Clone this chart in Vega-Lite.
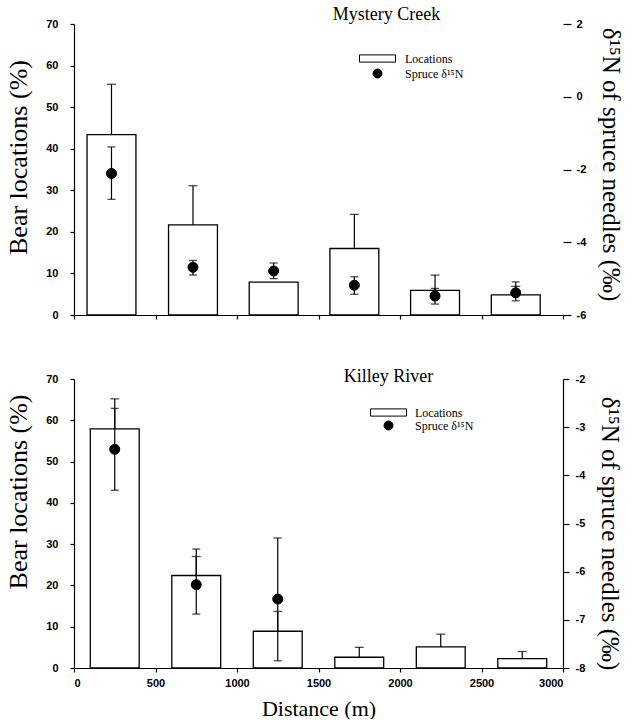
{
  "$schema": "https://vega.github.io/schema/vega-lite/v6.json",
  "padding": {"left": 5, "top": 6, "right": 0, "bottom": 0},
  "background": "white",
  "config": {
    "view": {"stroke": null},
    "axis": {
      "domainColor": "black", "tickColor": "black", "labelColor": "black", "titleColor": "black",
      "labelFont": "Liberation Sans", "labelFontSize": 11, "labelFontWeight": "bold",
      "titleFont": "Liberation Serif", "titleFontSize": 26, "titleFontWeight": "normal",
      "grid": false, "domainWidth": 1.2, "tickWidth": 1.2
    },
    "title": {"font": "Liberation Serif", "fontSize": 18, "fontWeight": "normal", "color": "black"},
    "legend": {"orient": "none", "title": null, "padding": 0, "symbolSize": 144, "symbolStrokeWidth": 1,
      "labelFont": "Liberation Serif", "labelFontSize": 12, "labelColor": "black"}
  },
  "datasets": {
    "mc": [
      {"x0": 80, "x1": 380, "xc": 230, "loc": 43.4, "locHi": 55.5, "n15": -2.11, "n15lo": -2.82, "n15hi": -1.38},
      {"x0": 580, "x1": 880, "xc": 730, "loc": 21.7, "locHi": 31.1, "n15": -4.69, "n15lo": -4.90, "n15hi": -4.50},
      {"x0": 1075, "x1": 1375, "xc": 1225, "loc": 7.9, "locHi": null, "n15": -4.79, "n15lo": -5.00, "n15hi": -4.57},
      {"x0": 1570, "x1": 1870, "xc": 1720, "loc": 16.0, "locHi": 24.2, "n15": -5.18, "n15lo": -5.43, "n15hi": -4.95},
      {"x0": 2065, "x1": 2365, "xc": 2215, "loc": 5.9, "locHi": 9.6, "n15": -5.48, "n15lo": -5.70, "n15hi": -5.27},
      {"x0": 2560, "x1": 2860, "xc": 2710, "loc": 4.85, "locHi": 6.9, "n15": -5.39, "n15lo": -5.61, "n15hi": -5.09}
    ],
    "kr": [
      {"x0": 100, "x1": 400, "xc": 250, "loc": 57.9, "locHi": 65.2, "n15": -3.46, "n15lo": -4.31, "n15hi": -2.61},
      {"x0": 600, "x1": 900, "xc": 750, "loc": 22.4, "locHi": 27.0, "n15": -6.27, "n15lo": -6.88, "n15hi": -5.53},
      {"x0": 1100, "x1": 1400, "xc": 1250, "loc": 8.9, "locHi": 13.7, "n15": -6.57, "n15lo": -7.85, "n15hi": -5.30},
      {"x0": 1600, "x1": 1900, "xc": 1750, "loc": 2.6, "locHi": 5.0, "n15": null, "n15lo": null, "n15hi": null},
      {"x0": 2100, "x1": 2400, "xc": 2250, "loc": 5.1, "locHi": 8.2, "n15": null, "n15lo": null, "n15hi": null},
      {"x0": 2600, "x1": 2900, "xc": 2750, "loc": 2.25, "locHi": 4.0, "n15": null, "n15lo": null, "n15hi": null}
    ]
  },
  "spacing": 48,
  "resolve": {"scale": {"x": "independent", "y": "independent", "shape": "independent", "fill": "independent", "stroke": "independent"}, "legend": {"shape": "independent", "fill": "independent", "stroke": "independent"}},
  "vconcat": [
    {
      "width": 489, "height": 291,
      "title": {"text": "Mystery Creek", "anchor": "middle", "dx": 68, "offset": -6},
      "data": {"name": "mc"},
      "resolve": {"scale": {"y": "independent"}},
      "layer": [
        {
          "layer": [
            {
              "mark": {"type": "bar", "fill": "white", "stroke": "black", "strokeWidth": 1.3},
              "encoding": {
                "x": {"field": "x0", "type": "quantitative", "scale": {"domain": [0, 3000], "nice": false},
                      "axis": {"title": null, "labels": false, "values": [0, 500, 1000, 1500, 2000, 2500, 3000], "tickSize": 4}},
                "x2": {"field": "x1"},
                "y": {"field": "loc", "type": "quantitative", "scale": {"domain": [0, 70], "nice": false},
                      "axis": {"orient": "left", "title": "Bear locations (%)", "values": [0, 10, 20, 30, 40, 50, 60, 70], "tickSize": 4, "labelPadding": 12, "titlePadding": 14, "titleY": 133}},
                "y2": {"datum": 0}
              }
            },
            {
              "transform": [{"filter": "datum.locHi != null"}],
              "mark": {"type": "rule", "color": "black", "strokeWidth": 1.2},
              "encoding": {
                "x": {"field": "xc", "type": "quantitative"},
                "y": {"field": "loc", "type": "quantitative"},
                "y2": {"field": "locHi"}
              }
            },
            {
              "transform": [{"filter": "datum.locHi != null"}],
              "mark": {"type": "tick", "orient": "horizontal", "color": "black", "size": 9, "thickness": 1.3},
              "encoding": {
                "x": {"field": "xc", "type": "quantitative"},
                "y": {"field": "locHi", "type": "quantitative"}
              }
            }
          ]
        },
        {
          "transform": [{"filter": "datum.n15 != null"}],
          "layer": [
            {
              "mark": {"type": "rule", "color": "black", "strokeWidth": 1.2},
              "encoding": {
                "x": {"field": "xc", "type": "quantitative"},
                "y": {"field": "n15lo", "type": "quantitative", "scale": {"domain": [-6, 2], "nice": false},
                      "axis": {"orient": "right", "title": "δ¹⁵N of spruce needles (‰)", "values": [-6, -5, -4, -3, -2, -1, 0, 1, 2], "labelExpr": "datum.value + ''", "domain": false, "tickSize": 8, "labelPadding": 5, "titlePadding": 12, "titleFontSize": 25, "titleY": 140}},
                "y2": {"field": "n15hi"}
              }
            },
            {
              "mark": {"type": "tick", "orient": "horizontal", "color": "black", "size": 8, "thickness": 1.3},
              "encoding": {"x": {"field": "xc", "type": "quantitative"}, "y": {"field": "n15lo", "type": "quantitative"}}
            },
            {
              "mark": {"type": "tick", "orient": "horizontal", "color": "black", "size": 8, "thickness": 1.3},
              "encoding": {"x": {"field": "xc", "type": "quantitative"}, "y": {"field": "n15hi", "type": "quantitative"}}
            },
            {
              "mark": {"type": "point", "filled": true, "opacity": 1, "size": 178, "strokeWidth": 1},
              "encoding": {
                "x": {"field": "xc", "type": "quantitative"},
                "y": {"field": "n15", "type": "quantitative"},
                "shape": {"datum": "Spruce δ¹⁵N", "type": "nominal",
                  "scale": {"domain": ["Locations", "Spruce δ¹⁵N"], "range": ["M-3,-0.6L3,-0.6L3,0.6L-3,0.6Z", "M0.75,0A0.75,0.75 0 1,1 -0.75,0A0.75,0.75 0 1,1 0.75,0Z"]},
                  "legend": {"legendX": 297, "legendY": 28, "rowPadding": 2, "labelOffset": 21}
                },
                "fill": {"datum": "Spruce δ¹⁵N", "type": "nominal",
                  "scale": {"domain": ["Locations", "Spruce δ¹⁵N"], "range": ["white", "black"]},
                  "legend": {"legendX": 297, "legendY": 28, "rowPadding": 2, "labelOffset": 21}
                },
                "stroke": {"datum": "Spruce δ¹⁵N", "type": "nominal",
                  "scale": {"domain": ["Locations", "Spruce δ¹⁵N"], "range": ["black", "black"]},
                  "legend": {"legendX": 297, "legendY": 28, "rowPadding": 2, "labelOffset": 21}
                }
              }
            }
          ]
        }
      ]
    },
    {
      "width": 489, "height": 289,
      "title": {"text": "Killey River", "anchor": "middle", "dx": 70, "offset": -13},
      "data": {"name": "kr"},
      "resolve": {"scale": {"y": "independent"}},
      "layer": [
        {
          "layer": [
            {
              "mark": {"type": "bar", "fill": "white", "stroke": "black", "strokeWidth": 1.3},
              "encoding": {
                "x": {"field": "x0", "type": "quantitative", "scale": {"domain": [0, 3000], "nice": false},
                      "axis": {"title": "Distance (m)", "values": [0, 500, 1000, 1500, 2000, 2500, 3000], "format": "d", "tickSize": 4, "labelPadding": 5, "titleFontSize": 22, "titlePadding": 10}},
                "x2": {"field": "x1"},
                "y": {"field": "loc", "type": "quantitative", "scale": {"domain": [0, 70], "nice": false},
                      "axis": {"orient": "left", "title": "Bear locations (%)", "values": [0, 10, 20, 30, 40, 50, 60, 70], "tickSize": 4, "labelPadding": 12, "titlePadding": 14, "titleAnchor": "end", "titleY": 15}},
                "y2": {"datum": 0}
              }
            },
            {
              "transform": [{"filter": "datum.locHi != null"}],
              "mark": {"type": "rule", "color": "black", "strokeWidth": 1.2},
              "encoding": {
                "x": {"field": "xc", "type": "quantitative"},
                "y": {"field": "loc", "type": "quantitative"},
                "y2": {"field": "locHi"}
              }
            },
            {
              "transform": [{"filter": "datum.locHi != null"}],
              "mark": {"type": "tick", "orient": "horizontal", "color": "black", "size": 9, "thickness": 1.3},
              "encoding": {
                "x": {"field": "xc", "type": "quantitative"},
                "y": {"field": "locHi", "type": "quantitative"}
              }
            }
          ]
        },
        {
          "transform": [{"filter": "datum.n15 != null"}],
          "layer": [
            {
              "mark": {"type": "rule", "color": "black", "strokeWidth": 1.2},
              "encoding": {
                "x": {"field": "xc", "type": "quantitative"},
                "y": {"field": "n15lo", "type": "quantitative", "scale": {"domain": [-8, -2], "nice": false},
                      "axis": {"orient": "right", "title": "δ¹⁵N of spruce needles (‰)", "values": [-8, -7, -6, -5, -4, -3, -2], "labelExpr": "datum.value + ''", "tickSize": 6, "labelPadding": 6, "titlePadding": 12, "titleFontSize": 25, "titleY": 154}},
                "y2": {"field": "n15hi"}
              }
            },
            {
              "mark": {"type": "tick", "orient": "horizontal", "color": "black", "size": 8, "thickness": 1.3},
              "encoding": {"x": {"field": "xc", "type": "quantitative"}, "y": {"field": "n15lo", "type": "quantitative"}}
            },
            {
              "mark": {"type": "tick", "orient": "horizontal", "color": "black", "size": 8, "thickness": 1.3},
              "encoding": {"x": {"field": "xc", "type": "quantitative"}, "y": {"field": "n15hi", "type": "quantitative"}}
            },
            {
              "mark": {"type": "point", "filled": true, "opacity": 1, "size": 178, "strokeWidth": 1},
              "encoding": {
                "x": {"field": "xc", "type": "quantitative"},
                "y": {"field": "n15", "type": "quantitative"},
                "shape": {"datum": "Spruce δ¹⁵N", "type": "nominal",
                  "scale": {"domain": ["Locations", "Spruce δ¹⁵N"], "range": ["M-3,-0.6L3,-0.6L3,0.6L-3,0.6Z", "M0.75,0A0.75,0.75 0 1,1 -0.75,0A0.75,0.75 0 1,1 0.75,0Z"]},
                  "legend": {"legendX": 308, "legendY": 27, "rowPadding": -2, "labelOffset": 20}
                },
                "fill": {"datum": "Spruce δ¹⁵N", "type": "nominal",
                  "scale": {"domain": ["Locations", "Spruce δ¹⁵N"], "range": ["white", "black"]},
                  "legend": {"legendX": 308, "legendY": 27, "rowPadding": -2, "labelOffset": 20}
                },
                "stroke": {"datum": "Spruce δ¹⁵N", "type": "nominal",
                  "scale": {"domain": ["Locations", "Spruce δ¹⁵N"], "range": ["black", "black"]},
                  "legend": {"legendX": 308, "legendY": 27, "rowPadding": -2, "labelOffset": 20}
                }
              }
            }
          ]
        }
      ]
    }
  ]
}
